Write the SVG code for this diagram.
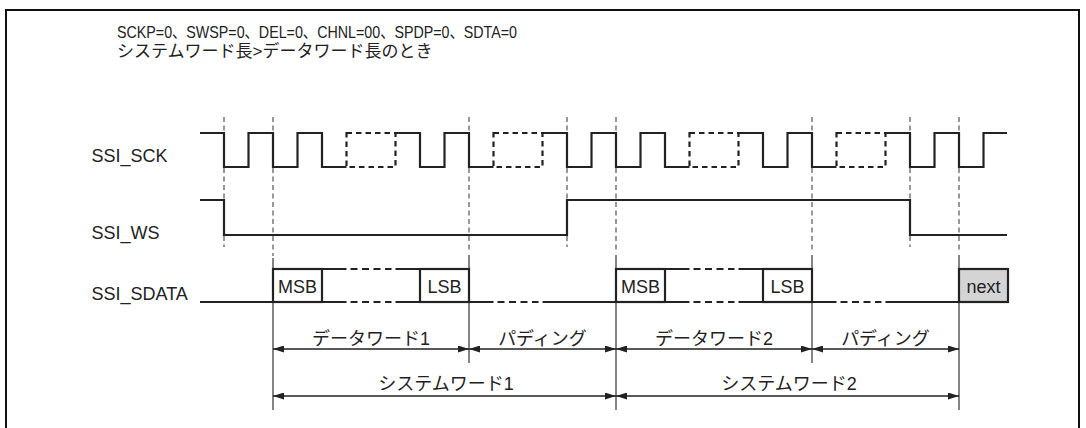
<svg xmlns="http://www.w3.org/2000/svg" width="1086" height="428" viewBox="0 0 1086 428">
<style>
.bg{fill:#fff}
.frame{fill:none;stroke:#111;stroke-width:2}
.sig{fill:none;stroke:#222;stroke-width:2.2;stroke-linejoin:miter}
.dbox{fill:none;stroke:#222;stroke-width:2.2;stroke-dasharray:5.5,4}
.ddash{fill:none;stroke:#222;stroke-width:2.2;stroke-dasharray:7,4.5}
.guide{fill:none;stroke:#333;stroke-width:1;stroke-dasharray:5,3.5}
.vline{fill:none;stroke:#333;stroke-width:1.2}
.arr{fill:none;stroke:#222;stroke-width:1.3;marker-start:url(#ah);marker-end:url(#ah)}
.box{fill:#fff;stroke:#222;stroke-width:2.2}
.nbox{fill:#d4d4d4;stroke:#222;stroke-width:2.2}
text{font-family:"Liberation Sans","Noto Sans CJK JP",sans-serif;fill:#222}
.lbl{font-size:18px}
.hdr{font-size:17px}
.mid{text-anchor:middle}
</style>
<defs>
<marker id="ah" viewBox="0 0 11 7" refX="11" refY="3.5" markerWidth="11" markerHeight="7" markerUnits="userSpaceOnUse" orient="auto-start-reverse">
<path d="M0,0 L11,3.5 L0,7 z" fill="#222"/>
</marker>
</defs>
<rect class="bg" x="0" y="0" width="1086" height="428"/>
<rect class="frame" x="6" y="10" width="1073" height="430"/>
<g id="header">
<text class="hdr" x="117" y="37.5" textLength="400" lengthAdjust="spacingAndGlyphs">SCKP=0、SWSP=0、DEL=0、CHNL=00、SPDP=0、SDTA=0</text>
<text class="hdr" x="117" y="57">システムワード長&gt;データワード長のとき</text>
</g>
<g id="guides">
<line class="guide" x1="224" y1="117" x2="224" y2="247"/>
<line class="guide" x1="273" y1="117" x2="273" y2="256"/>
<line class="guide" x1="469" y1="117" x2="469" y2="253"/>
<line class="guide" x1="567" y1="117" x2="567" y2="247"/>
<line class="guide" x1="616" y1="117" x2="616" y2="253"/>
<line class="guide" x1="812" y1="117" x2="812" y2="253"/>
<line class="guide" x1="910" y1="117" x2="910" y2="247"/>
<line class="guide" x1="959" y1="117" x2="959" y2="253"/>
<line class="vline" x1="273" y1="258" x2="273" y2="410"/>
<line class="vline" x1="469" y1="255" x2="469" y2="363"/>
<line class="vline" x1="616" y1="255" x2="616" y2="410"/>
<line class="vline" x1="812" y1="255" x2="812" y2="363"/>
<line class="vline" x1="959" y1="255" x2="959" y2="410"/>
</g>
<g id="ssi_sck">
<text class="lbl" x="91.5" y="161.5">SSI_SCK</text>
<path class="sig" d="M200,133 H224 V167 H248.5 V133 H273 V167 H297.5 V133 H322 V167 H346.5 M395.5,133 H420 V167 H444.5 V133 H469 V167 H493.5 M542.5,133 H567 V167 H591.5 V133 H616 V167 H640.5 V133 H665 V167 H689.5 M738.5,133 H763 V167 H787.5 V133 H812 V167 H836.5 M885.5,133 H910 V167 H934.5 V133 H959 V167 H983.5 V133 H1007"/>
<rect class="dbox" x="346.5" y="133" width="49" height="34"/>
<rect class="dbox" x="493.5" y="133" width="49" height="34"/>
<rect class="dbox" x="689.5" y="133" width="49" height="34"/>
<rect class="dbox" x="836.5" y="133" width="49" height="34"/>
</g>
<g id="ssi_ws">
<text class="lbl" x="91.5" y="239">SSI_WS</text>
<path class="sig" d="M200,200 H224 V235 H567 V200 H910 V235 H1007"/>
</g>
<g id="ssi_sdata">
<text class="lbl" x="91.5" y="300">SSI_SDATA</text>
<path class="sig" d="M200,302 H273 M469,302 H493.5 M542.5,302 H616 M812,302 H836.5 M885.5,302 H959"/>
<path class="ddash" d="M497.5,302 H538.5 M840.5,302 H881.5"/>
</g>
<g id="dataword1">
<rect class="box" x="273" y="269" width="49" height="33"/>
<rect class="box" x="420" y="269" width="49" height="33"/>
<path class="sig" d="M322,269 H346.5 M395.5,269 H420 M322,302 H346.5 M395.5,302 H420"/>
<path class="ddash" d="M350.5,269 H391.5 M350.5,302 H391.5"/>
<text class="lbl mid" x="297.5" y="293">MSB</text>
<text class="lbl mid" x="444.5" y="293">LSB</text>
</g>
<g id="dataword2">
<rect class="box" x="616" y="269" width="49" height="33"/>
<rect class="box" x="763" y="269" width="49" height="33"/>
<path class="sig" d="M665,269 H689.5 M738.5,269 H763 M665,302 H689.5 M738.5,302 H763"/>
<path class="ddash" d="M693.5,269 H734.5 M693.5,302 H734.5"/>
<text class="lbl mid" x="640.5" y="293">MSB</text>
<text class="lbl mid" x="787.5" y="293">LSB</text>
</g>
<g id="next">
<rect class="nbox" x="959" y="269" width="49" height="33"/>
<text class="lbl mid" x="983.5" y="293">next</text>
</g>
<g id="connectors">
<line class="arr" x1="273" y1="349" x2="469" y2="349"/>
<line class="arr" x1="469" y1="349" x2="616" y2="349"/>
<line class="arr" x1="616" y1="349" x2="812" y2="349"/>
<line class="arr" x1="812" y1="349" x2="959" y2="349"/>
<line class="arr" x1="273" y1="396" x2="616" y2="396"/>
<line class="arr" x1="616" y1="396" x2="959" y2="396"/>
</g>
<g id="labels">
<text class="lbl mid" x="371" y="345">データワード1</text>
<text class="lbl mid" x="542.5" y="345">パディング</text>
<text class="lbl mid" x="714" y="345">データワード2</text>
<text class="lbl mid" x="885.5" y="345">パディング</text>
<text class="lbl mid" x="446" y="390">システムワード1</text>
<text class="lbl mid" x="789" y="390">システムワード2</text>
</g>
</svg>
